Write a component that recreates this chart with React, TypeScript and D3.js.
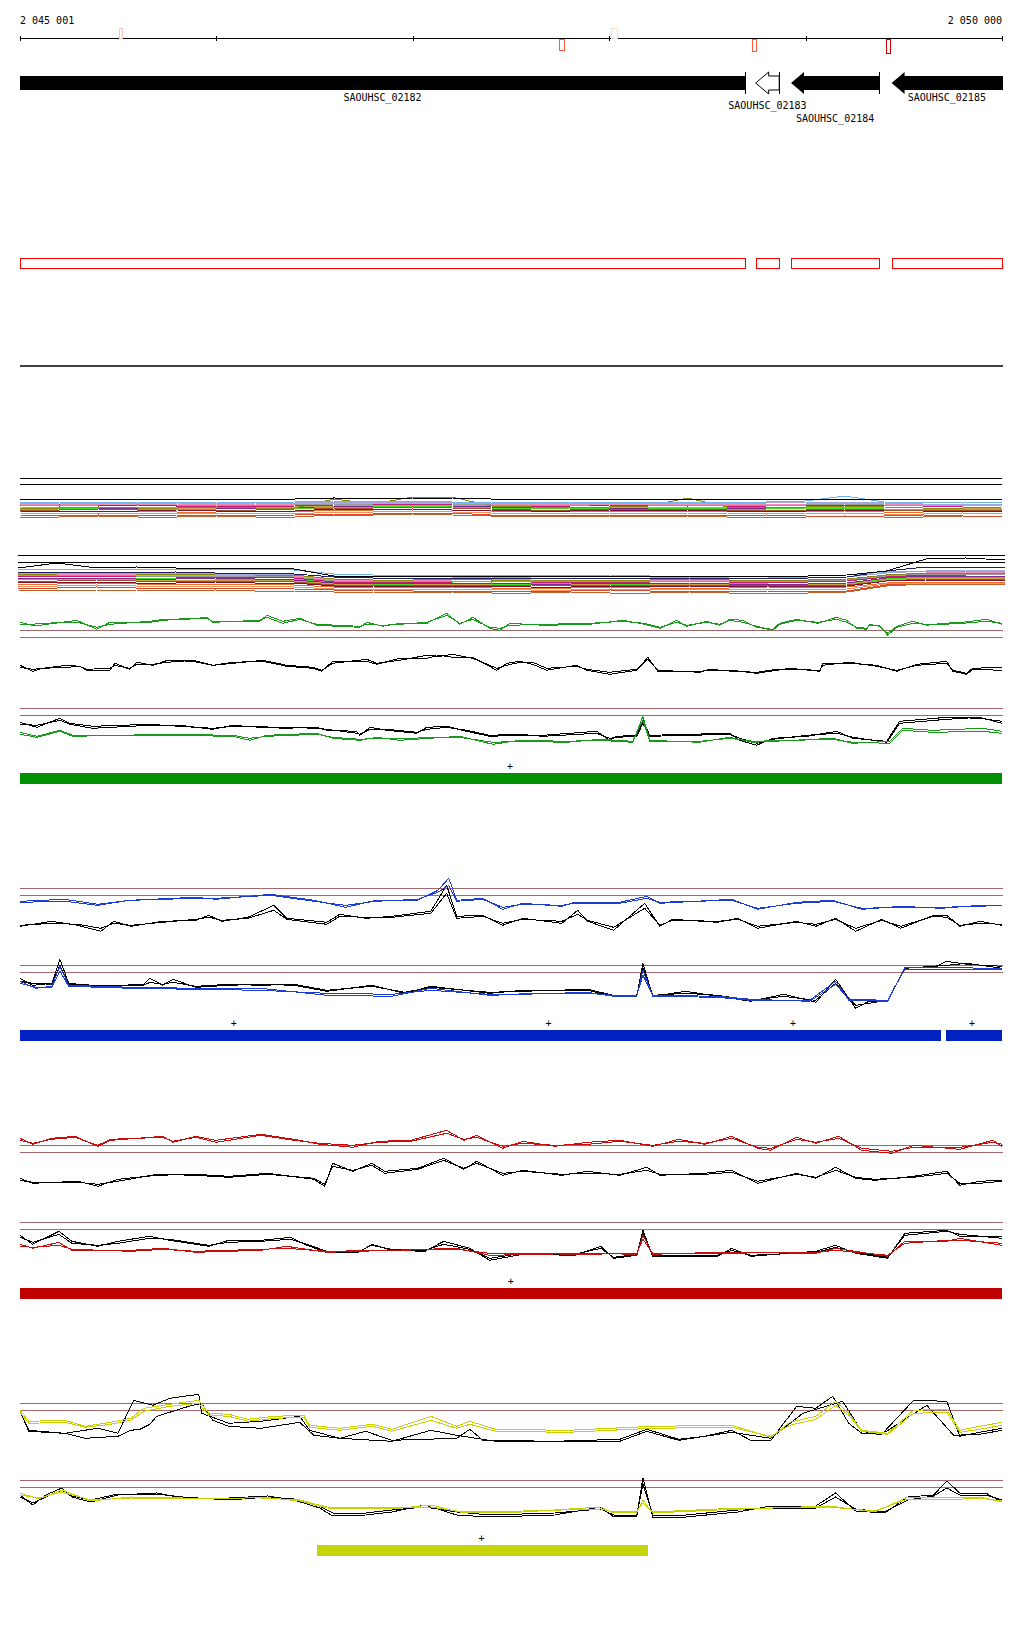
import React from 'react';
import * as d3 from 'd3';

// ---------- genome window ----------
const START = 2045001;
const END = 2050000;
const tickPositions = [2045001, 2046000, 2047000, 2048000, 2049000, 2050000];
const rangeLabels = ['2 045 001', '2 050 000'];

// ---------- genes ----------
const geneNames = ['SAOUHSC_02182', 'SAOUHSC_02183', 'SAOUHSC_02184', 'SAOUHSC_02185'];
const geneStarts = [2044500, 2048746, 2048926, 2049438];
const geneEnds = [2048692, 2048866, 2049375, 2050400];
const geneFilled = [true, false, true, true];
const geneLabelRow = [0, 1, 2, 0];

// ---------- CDS outlines ----------
const cdsStarts = [2045001, 2048746, 2048926, 2049438];
const cdsEnds = [2048692, 2048866, 2049375, 2050000];

// ---------- ruler markers ----------
const markerPositions = [2045517, 2047761, 2048025, 2048739, 2049424];
const markerColors = ['#f5c4bb', '#ff5b3a', '#ffd8c6', '#ff5b3a', '#c40000'];
const markerUp = [true, false, true, false, false];

// ---------- bundles (positions are offsets within window) ----------
const bundlePos = [1, 200, 400, 600, 800, 1000, 1200, 1400, 1600, 1800, 2000, 2200, 2400, 2600, 2800, 3000, 3200, 3400, 3600, 3800, 4000, 4200, 4400, 4600, 4800, 5000];
const topLightBlue = [18,18,17,18,18, 18,17,18,19,19, 19,18,18,17,18, 18,18,18,18,18, 19,24,18,17,18, 18];
const topOlive = [12,12,13,12,12, 13,12,12,21,16, 23,23,14,13,13, 13,14,22,13,13, 13,14,13,12,12, 13];
const topOrange = [8,9,8,9,8, 8,9,8,10,10, 11,10,9,9,8, 9,9,9,8,9, 8,9,8,8,9, 8];
const topRed = [5,4,5,4,5, 5,4,5,6,6, 7,7,5,5,4, 5,5,5,4,5, 4,4,4,5,4, 4];
const topSienna = [10,10,11,10,11, 10,10,11,12,12, 13,12,11,10,10, 11,11,11,10,10, 10,11,10,10,10, 10];
const topMagenta = [14,15,14,15,14, 14,13,14,15,16, 16,16,15,14,14, 15,14,15,14,14, 15,15,15,14,14, 15];
const topPurple = [11,13,12,12,13, 12,12,12,14,14, 15,14,13,12,13, 12,12,13,12,12, 13,14,13,12,12, 12];
const topGreen = [10,11,12,11,10, 11,12,11,13,13, 14,13,12,11,12, 11,12,12,11,11, 12,12,11,11,11, 11];
const topGray = [15,14,15,16,15, 15,14,15,16,16, 17,16,15,15,14, 16,15,15,15,15, 15,16,15,15,16, 15];
const topPink = [16,16,15,16,16, 15,16,16,17,17, 17,17,16,16,15, 16,16,16,16,16, 16,17,16,15,15, 15];
const topSalmon = [7,6,7,7,6, 7,7,6,8,8, 9,8,7,6,7, 7,6,7,7,6, 7,7,6,6,7, 6];
const topMaroon = [9,8,9,9,10, 9,9,9,11,10, 11,10,10,9,9, 10,9,10,9,9, 9,10,10,9,9, 9];
const topLavender = [17,17,16,17,17, 16,17,17,18,18, 18,18,17,17,17, 17,17,17,17,17, 18,18,17,16,16, 16];
const topKhaki = [13,12,13,13,12, 12,13,13,14,15, 15,15,14,13,12, 13,13,13,13,12, 13,13,13,12,12, 12];
const topBrown = [3,3,4,3,3, 4,3,3,5,5, 6,5,4,4,3, 4,3,4,3,3, 3,4,3,3,4, 3];
const topBlack = [21,21,21,21,21, 21,21,21,22,21, 22,22,21,21,21, 21,21,21,21,21, 21,21,21,21,21, 21];
const topRefs = [42, 36];

const botLightBlue = [27,27,27,27,27, 27,27,26,22,21, 21,21,21,21,21, 21,20,20,20,20, 20,21,24,25,25, 25];
const botBlack = [28,33,28,29,28, 28,28,27,20,20, 20,20,20,20,20, 20,20,20,20,20, 20,21,25,37,38, 36];
const botNavy = [24,24,24,23,24, 23,23,22,19,18, 18,18,18,18,18, 18,18,18,18,18, 18,19,25,29,29, 29];
const botOlive = [22,22,23,22,22, 22,21,21,17,16, 16,17,16,16,15, 16,16,17,16,16, 16,17,21,23,23, 23];
const botOrange = [12,12,13,12,11, 12,12,11,9,9, 8,9,8,8,8, 9,8,8,8,9, 8,9,13,14,14, 14];
const botRed = [8,8,9,8,8, 8,8,7,6,6, 5,5,5,5,5, 6,5,5,4,5, 5,5,11,13,13, 13];
const botSienna = [15,15,16,15,15, 15,15,14,11,11, 11,11,11,11,10, 11,10,11,11,11, 10,11,16,17,17, 17];
const botMagenta = [19,20,20,20,19, 19,19,18,14,14, 14,14,15,14,14, 14,14,15,14,14, 14,15,19,21,21, 22];
const botPurple = [17,18,18,17,17, 18,17,16,13,13, 13,12,13,12,12, 13,13,13,12,12, 12,13,18,20,20, 20];
const botGreen = [18,18,17,18,18, 17,17,17,13,12, 12,13,12,12,13, 12,12,13,13,12, 12,13,17,19,19, 19];
const botGray = [20,21,21,20,20, 20,20,19,15,15, 15,15,15,15,15, 15,15,15,15,15, 15,16,20,22,22, 22];
const botPink = [21,22,22,21,21, 21,21,20,16,16, 16,16,17,16,16, 16,16,16,16,16, 16,17,21,23,24, 24];
const botSalmon = [10,10,11,10,10, 10,10,9,7,7, 7,7,7,6,6, 7,6,7,7,7, 7,7,12,13,13, 13];
const botMaroon = [13,14,14,13,13, 14,13,13,10,10, 9,10,10,9,9, 10,10,10,9,10, 9,10,15,16,16, 16];
const botLavender = [23,23,23,23,23, 22,22,22,19,18, 18,18,19,18,18, 18,18,19,18,18, 19,19,23,25,26, 26];
const botKhaki = [16,17,17,16,16, 16,16,15,12,12, 12,12,12,12,11, 12,11,12,12,12, 11,12,16,18,18, 18];
const botBrown = [6,5,6,6,5, 6,5,5,4,4, 3,4,3,3,4, 3,3,4,3,3, 3,4,10,12,12, 12];
const botRefs = [41, 34];

// ---------- signal panels: reference (threshold) values ----------
const panelRefs = [50, 43];

// ---------- GREEN ----------
const posGT = [1,66,102,290,392, 458,662,738,850,952, 982,1222,1257,1339,1425, 1512,1731,1766,1848,1934, 2072,2173,2240,2306,2392, 2443,2494,2672,2901,3069, 3181,3258,3344,3395,3497, 3563,3614,3680,3751,3833, 3868,3955,4062,4159,4209, 4260,4311,4327,4377,4418, 4464,4545,4617,4698,4800, 4922,5000];
const gTopA = [58,55,55,60,51, 58,58,60,62,62, 59,59,65,59,62, 55,53,58,54,57, 57,67,56,63,52, 50,57,55,56,60, 56,52,60,54,59, 55,61,60,53,51, 57,61,57,63,60, 52,51,56,54,47, 54,59,55,57,58, 61,56];
const gTopB = [56,56,57,58,53, 56,59,61,61,63, 58,60,63,57,61, 56,54,56,55,56, 58,65,57,61,53, 52,55,56,57,59, 57,53,58,55,58, 56,60,58,54,50, 56,60,58,61,58, 53,52,55,55,45, 53,57,56,56,57, 59,57];
const posGK = [1,66,117,239,305, 341,458,484,560,596, 677,753,881,982,1084, 1237,1359,1491,1537,1593, 1766,1817,1934,2072,2138, 2204,2306,2428,2479,2545, 2611,2682,2835,2886,3003, 3141,3197,3248,3461,3512, 3629,3751,3853,3919,4072, 4087,4225,4362,4464,4566, 4719,4749,4820,4851,5000];
const gKA = [15,9,12,15,14, 10,10,17,11,18, 15,20,19,15,18, 19,14,12,9,19, 19,16,22,22,25, 23,23,10,17,19, 16,10,15,10,6, 10,23,9,9,10, 10,7,10,12,9, 17,17,15,9,16, 19,9,6,11,10];
const gKB = [13,11,12,13,14, 11,12,15,12,16, 16,18,20,15,17, 20,15,13,10,17, 21,17,20,25,24, 26,22,12,15,18, 18,12,14,11,8, 11,21,10,8,11, 9,8,11,11,10, 15,18,14,10,15, 17,10,7,12,13];
const posG2K = [1,87,204,255,372, 662,814,982,1084,1222, 1339,1512,1563,1715,1731, 1782,1868,2021,2072,2173, 2275,2392,2545,2662,2937, 3003,3039,3141,3172,3207, 3614,3665,3751,3833,4006, 4159,4240,4413,4479,4719, 4887,5000];
const g2KA = [36,31,40,35,32, 34,32,30,32,32, 30,31,28,27,23, 31,28,25,31,32, 27,22,23,23,27, 18,22,23,38,23, 25,18,13,20,22, 27,20,17,37,41, 40,37];
const g2KB = [34,33,38,34,30, 33,33,29,33,31, 31,30,29,25,24, 29,29,26,29,31, 28,23,24,22,25, 20,21,22,35,22, 24,20,15,19,23, 25,21,16,35,39, 41,35];
const posG2G = [1,87,204,270,748, 1084,1171,1257,1512,1593, 1731,1817,1934,2240,2408, 2545,2784,2952,3120,3172, 3207,3461,3614,3731,4138, 4240,4428,4495,4647,4902, 5000];
const g2GA = [26,22,28,23,23, 22,18,23,25,20, 18,21,18,22,14, 18,17,18,16,42, 18,16,21,16,20, 15,17,30,28,30, 27];
const g2GB = [24,21,27,22,24, 23,20,22,24,21, 19,20,20,21,16, 17,16,19,17,38, 17,17,20,17,19, 16,15,28,26,27, 25];
const greenBarStarts = [2045001];
const greenBarEnds = [2050000];
const greenPlus = [2047495];

// ---------- BLUE ----------
const posB1B = [1,229,397,560,896, 998,1278,1497,1659,1812, 2026,2128,2184,2224,2357, 2458,2560,2759,2825,3054, 3192,3258,3624,3756,3955, 4138,4286,4484,4688,4887, 5000];
const b1BA = [37,39,34,38,41, 39,44,38,31,38, 38,48,60,38,40, 29,35,32,36,36, 42,35,39,29,36, 38,29,32,30,33, 33];
const b1BB = [36,37,33,38,40, 40,43,37,33,37, 39,46,53,37,39, 31,34,33,35,35, 40,36,38,30,35, 37,30,31,31,32, 33];
const posB1K = [1,163,295,412,478, 565,728,896,962,1028, 1161,1293,1359,1563,1629, 1761,1894,2092,2173,2224, 2357,2458,2560,2759,2840, 2891,3023,3181,3258,3324, 3553,3655,3756,3955,4052, 4153,4255,4388,4484,4652, 4719,4785,4887,5000];
const b1KA = [12,17,13,7,17, 12,17,18,23,17, 21,33,20,16,24, 20,22,27,53,22, 23,13,20,15,28, 17,8,35,12,19, 16,20,10,17,12, 20,7,19,10,23, 23,12,17,13];
const b1KB = [13,15,14,10,15, 13,16,19,21,18, 20,28,19,14,22, 21,21,25,45,20, 22,15,19,17,24, 18,11,30,13,18, 17,19,12,16,14, 19,10,18,12,22, 21,13,15,14];
const posB2K = [1,66,163,204,249, 397,631,662,728,779, 896,1064,1227,1395,1563, 1792,1960,2092,2392,2560, 2891,3023,3141,3172,3222, 3390,3553,3721,3889,4052, 4153,4255,4322,4418,4505, 4652,4719,4820,5000];
const b2KA = [37,30,32,56,32, 29,31,37,30,36, 28,30,31,30,24, 30,22,29,22,25, 25,19,19,52,19, 24,19,14,21,13, 36,7,14,14,48, 48,54,51,49];
const b2KB = [34,32,31,50,31, 30,30,33,31,33, 29,31,30,31,25, 29,23,28,23,24, 26,20,20,48,20, 22,20,15,19,15, 32,10,12,15,47, 49,50,52,47];
const posB2B = [1,81,163,204,249, 565,896,1227,1563,1894, 2092,2392,2891,3023,3141, 3172,3222,3553,3721,4021, 4153,4220,4418,4505,5000];
const b2BA = [34,27,29,49,30, 28,27,27,20,19, 27,20,23,19,19, 45,19,18,15,15, 34,15,14,48,47];
const b2BB = [32,28,28,44,29, 27,26,25,22,21, 25,21,22,20,20, 40,20,19,16,14, 31,16,15,46,46];
const blueBarStarts = [2045001, 2049715];
const blueBarEnds = [2049692, 2050000];
const bluePlus = [2046089, 2047692, 2048936, 2049847];

// ---------- RED ----------
const posR1R = [1,66,163,280,397, 463,728,779,896,998, 1227,1395,1527,1695,1827, 1990,2173,2260,2326,2458, 2560,2723,2891,3054,3222, 3354,3487,3624,3756,3823, 3955,4052,4169,4286,4439, 4550,4785,4953,5000];
const r1RA = [57,51,57,59,49, 55,59,53,59,55, 61,56,51,48,54, 55,65,55,60,47, 54,49,53,55,49, 56,51,59,47,45, 58,52,59,45,42, 50,46,55,49];
const r1RB = [55,52,56,58,50, 56,58,54,58,53, 60,55,52,50,53, 54,62,56,58,49, 52,50,51,54,50, 54,52,57,48,47, 56,53,57,47,44, 48,48,53,51];
const posR1K = [1,66,295,397,499, 697,896,1064,1262,1497, 1552,1593,1695,1792,1858, 2026,2158,2260,2326,2458, 2560,2759,2891,3054,3192, 3258,3487,3624,3756,3955, 4052,4153,4255,4352,4550, 4719,4785,4887,5000];
const r1KA = [17,12,14,9,16, 20,21,19,22,16, 9,32,24,32,24, 27,37,26,34,20, 25,20,24,20,28, 20,22,25,12,22, 17,28,17,15,19, 24,10,14,15];
const r1KB = [15,13,13,11,14, 21,20,18,21,17, 11,29,25,30,22, 26,35,27,32,22, 24,21,22,21,25, 21,21,23,14,21, 18,25,18,16,18, 22,12,12,14];
const posR2K = [1,66,199,265,397, 499,662,764,962,1064, 1227,1380,1461,1563,1726, 1792,1894,2062,2158,2291, 2392,2560,2825,2957,3023, 3141,3172,3222,3390,3553, 3624,3721,4052,4153,4255, 4418,4505,4719,4785,5000];
const r2KA = [37,28,41,31,26, 31,36,32,26,32, 32,35,27,20,20, 28,22,21,31,24, 12,18,17,26,14, 17,42,16,16,16, 24,16,21,27,19, 14,39,42,36,36];
const r2KB = [35,30,38,29,27, 29,34,33,27,30, 31,33,28,21,21, 27,23,22,28,23, 14,19,18,24,15, 18,39,17,17,17, 22,17,20,25,20, 15,37,41,38,34];
const posR2R = [1,66,199,265,565, 728,896,1227,1359,1563, 2224,2392,2891,3141,3172, 3222,3553,4052,4153,4418, 4505,4719,4785,5000];
const r2RA = [28,24,30,22,22, 24,20,22,26,20, 24,17,19,18,37, 18,20,19,24,16, 31,31,34,27];
const r2RB = [26,25,27,23,21, 23,21,23,24,21, 23,19,18,19,33, 19,19,20,22,17, 29,32,32,29];
const redBarStarts = [2045001];
const redBarEnds = [2050000];
const redPlus = [2047499];

// ---------- YELLOW ----------
const posY1KA = [1,46,229,397,499, 580,677,764,911,926, 1064,1227,1425,1476,1629, 1761,1894,2224,2291,2357, 2723,3054,3192,3354,3487, 3624,3721,3823,3955,4052, 4138,4220,4286,4388,4550, 4719,4785,4887,5000];
const y1KA = [42,22,20,25,20, 53,48,55,59,40, 30,32,37,23,15, 22,13,15,24,13, 12,14,24,14,17, 23,13,13,47,45, 57,30,20,19,53, 52,17,21,25];
const posY1KB = [1,46,229,331,499, 565,611,662,697,860, 926,982,1064,1227,1425, 1497,1629,1894,2092,2224, 2423,3054,3192,3354,3624, 3823,3986,4189,4286,4388, 4617,4754,4887,5000];
const y1KB = [42,23,20,15,17, 23,24,29,37,47, 50,33,27,25,31, 18,15,12,23,18, 12,12,22,13,21, 15,40,52,22,19, 48,18,19,23];
const posY1Y = [1,46,229,331,463, 565,631,764,911,962, 1064,1161,1293,1446,1476, 1629,1792,1894,2092,2224, 2291,2423,2789,3222,3624, 3823,3919,4052,4153,4220, 4286,4418,4550,4719,4785, 4887,5000];
const y1YA = [43,32,33,27,31, 35,45,49,53,40, 39,34,37,38,28, 25,29,24,37,27, 32,24,23,27,28, 16,31,37,52,40, 23,20,43,44,23, 27,31];
const y1YB = [41,30,31,26,29, 33,42,47,50,38, 37,32,35,36,26, 23,27,22,33,25, 29,22,21,25,26, 17,28,34,48,38, 22,19,40,41,21, 24,28];
const posY2K = [1,66,132,214,265, 361,499,697,830,1064, 1262,1395,1527,1593,1761, 1894,2062,2224,2392,2723, 2957,3023,3141,3172,3222, 3390,3655,3823,4052,4153, 4255,4403,4520,4652,4719, 4785,4917,5000];
const y2KA = [35,25,35,42,33, 28,35,37,32,32, 34,30,22,14,15, 18,25,15,13,15, 23,13,14,52,13, 13,18,24,24,37, 19,17,33,35,49, 37,37,28];
const y2KB = [33,27,33,40,34, 30,36,36,33,30, 33,31,24,17,17, 20,23,18,15,17, 21,15,15,46,15, 15,20,22,22,33, 21,18,30,34,42, 35,35,30];
const posY2Y = [1,97,214,361,565, 830,1064,1227,1425,1563, 1894,2092,2260,2560,2957, 3023,3141,3172,3222,3553, 4118,4352,4520,4719,4887, 5000];
const y2YA = [37,31,40,29,33, 32,31,33,29,22, 21,25,17,18,23, 17,18,30,17,20, 24,18,33,32,33, 28];
const y2YB = [35,32,38,30,32, 31,32,32,30,23, 22,23,18,19,21, 18,19,27,18,21, 23,19,31,30,32, 29];
const yellowBarStarts = [2046513];
const yellowBarEnds = [2048198];
const yellowPlus = [2047350];

type S = d3.ScaleLinear<number, number>;

export default function App() {
  const X0 = 20, X1 = 1002;
  const x = d3.scaleLinear().domain([START, END]).range([X0, X1]);
  const xWide = d3.scaleLinear().domain([START, END]).range([18, 1005]);
  const g = (o: number) => START - 1 + o;
  const path = (xs: S, pos: number[], vals: number[], ys: S) => {
    const n = Math.min(pos.length, vals.length);
    return d3.line()(d3.range(n).map((i) => [xs(g(pos[i])), ys(vals[i])] as [number, number])) || '';
  };

  // style / layout constants
  const FONT = "'DejaVu Sans Mono', 'Liberation Mono', monospace";
  const AXIS_Y = 38.5;
  const LABEL_BASE = [100.7, 109.3, 121.7];
  const MARKER_W = [3, 4.5, 6, 3.5, 4];
  const MARKER_H = [10, 11, 10, 12, 14];
  const BROWN = '#a06868';

  const bundles = [
    {
      xs: x, ys: d3.scaleLinear().domain([0, 45]).range([520, 475]), refs: topRefs, x0: 20, x1: 1002,
      series: [
        [topBrown, '#c8602a'], [topRed, '#d9482b'], [topSalmon, '#ee9060'], [topOrange, '#e8702a'],
        [topMaroon, '#801030'], [topSienna, '#a0522d'], [topGreen, '#3ddc1c'], [topPurple, '#7b2c8c'],
        [topKhaki, '#c8a040'], [topOlive, '#8c8c00'], [topMagenta, '#c8187a'], [topGray, '#9a9a9a'],
        [topPink, '#f08cb0'], [topLavender, '#a0a8e0'], [topLightBlue, '#6ab4f0'], [topBlack, '#000000'],
      ] as [number[], string][],
    },
    {
      xs: xWide, ys: d3.scaleLinear().domain([0, 45]).range([596, 551]), refs: botRefs, x0: 18, x1: 1005,
      series: [
        [botBrown, '#c8602a'], [botRed, '#d9482b'], [botSalmon, '#ee9060'], [botOrange, '#e8702a'],
        [botMaroon, '#801030'], [botSienna, '#a0522d'], [botKhaki, '#c8a040'], [botGreen, '#3ddc1c'],
        [botPurple, '#7b2c8c'], [botMagenta, '#c8187a'], [botGray, '#9a9a9a'], [botPink, '#f08cb0'],
        [botOlive, '#8c8c00'], [botLavender, '#a0a8e0'], [botNavy, '#1e1e66'], [botLightBlue, '#6ab4f0'],
        [botBlack, '#000000'],
      ] as [number[], string][],
    },
  ];

  const sections = [
    {
      color: '#1a9a1a', barColor: '#008f00', bases: [680.3, 758.3], barY: 773,
      panels: [
        { col: [[posGT, gTopA], [posGT, gTopB]], blk: [[posGK, gKA], [posGK, gKB]] },
        { col: [[posG2G, g2GA], [posG2G, g2GB]], blk: [[posG2K, g2KA], [posG2K, g2KB]] },
      ],
      barStarts: greenBarStarts, barEnds: greenBarEnds, plus: greenPlus,
    },
    {
      color: '#1c3cd6', barColor: '#0022c0', bases: [938.3, 1015.3], barY: 1030,
      panels: [
        { col: [[posB1B, b1BA], [posB1B, b1BB]], blk: [[posB1K, b1KA], [posB1K, b1KB]] },
        { col: [[posB2B, b2BA], [posB2B, b2BB]], blk: [[posB2K, b2KA], [posB2K, b2KB]] },
      ],
      barStarts: blueBarStarts, barEnds: blueBarEnds, plus: bluePlus,
    },
    {
      color: '#cc0a0a', barColor: '#c00000', bases: [1195.3, 1272.3], barY: 1288,
      panels: [
        { col: [[posR1R, r1RA], [posR1R, r1RB]], blk: [[posR1K, r1KA], [posR1K, r1KB]] },
        { col: [[posR2R, r2RA], [posR2R, r2RB]], blk: [[posR2K, r2KA], [posR2K, r2KB]] },
      ],
      barStarts: redBarStarts, barEnds: redBarEnds, plus: redPlus,
    },
    {
      color: '#c8d200', barColor: '#c5d40a', bases: [1453.3, 1530], barY: 1545,
      panels: [
        { col: [[posY1Y, y1YA], [posY1Y, y1YB]], blk: [[posY1KA, y1KA], [posY1KB, y1KB]] },
        { col: [[posY2Y, y2YA], [posY2Y, y2YB]], blk: [[posY2K, y2KA], [posY2K, y2KB]] },
      ],
      barStarts: yellowBarStarts, barEnds: yellowBarEnds, plus: yellowPlus,
    },
  ];

  return (
    <svg
      width={1024}
      height={1640}
      style={{ position: 'absolute', left: 0, top: 0, background: '#ffffff' }}
      fontFamily={FONT}
      fontSize={10}
    >
      <defs>
        <clipPath id="geneClip">
          <rect x={X0} y={60} width={X1 - X0 + 1} height={50} />
        </clipPath>
      </defs>
      <rect x={0} y={0} width={1024} height={1640} fill="#ffffff" />

      {/* ruler */}
      <text x={X0} y={24} fill="#000">{rangeLabels[0]}</text>
      <text x={X1} y={24} fill="#000" textAnchor="end">{rangeLabels[1]}</text>
      <line x1={X0} x2={X1} y1={AXIS_Y} y2={AXIS_Y} stroke="#000" strokeWidth={1} shapeRendering="crispEdges" />
      {tickPositions.map((t) => (
        <line key={t} x1={Math.round(x(t)) + 0.5} x2={Math.round(x(t)) + 0.5} y1={36} y2={41} stroke="#000" strokeWidth={1} shapeRendering="crispEdges" />
      ))}
      {markerPositions.map((p, i) => {
        const w = MARKER_W[i], h = MARKER_H[i];
        const cx = x(p);
        const y0 = markerUp[i] ? AXIS_Y - h : AXIS_Y + 0.5;
        return (
          <rect key={p} x={cx - w / 2} y={y0} width={w} height={h} fill="#ffffff" stroke={markerColors[i]} strokeWidth={1} shapeRendering="crispEdges" />
        );
      })}

      {/* genes */}
      <g clipPath="url(#geneClip)">
        {geneNames.map((n, i) => {
          const xs = x(geneStarts[i]);
          const xe = x(geneEnds[i]);
          const xh = xs + 13;
          const pts = [[xs, 83], [xh, 72], [xh, 76], [xe, 76], [xe, 90], [xh, 90], [xh, 94]];
          return (
            <polygon
              key={n}
              points={pts.map((p) => p.join(',')).join(' ')}
              fill={geneFilled[i] ? '#000' : '#fff'}
              stroke="#000"
              strokeWidth={geneFilled[i] ? 0 : 1}
            />
          );
        })}
      </g>
      {geneNames.map((n, i) => {
        const xe = x(geneEnds[i]);
        if (xe > X1) return null;
        return <line key={n + 'bar'} x1={xe} x2={xe} y1={72} y2={94} stroke="#000" strokeWidth={1} shapeRendering="crispEdges" />;
      })}
      {geneNames.map((n, i) => {
        const a = Math.max(x(geneStarts[i]), X0);
        const b = Math.min(x(geneEnds[i]), X1);
        return (
          <text key={n + 'lbl'} x={(a + b) / 2} y={LABEL_BASE[geneLabelRow[i]]} textAnchor="middle" fill="#000">{n}</text>
        );
      })}

      {/* CDS outline */}
      {cdsStarts.map((s, i) => (
        <rect key={s} x={x(s) + 0.5} y={258.5} width={x(cdsEnds[i]) - x(s)} height={10} fill="none" stroke="#ff0000" strokeWidth={1.2} shapeRendering="crispEdges" />
      ))}

      <line x1={X0} x2={X1 + 1} y1={366} y2={366} stroke="#000" strokeWidth={1.5} />

      {/* bundles */}
      {bundles.map((b, bi) => (
        <g key={'b' + bi}>
          {b.refs.map((r) => (
            <line key={r} x1={b.x0} x2={b.x1} y1={b.ys(r) + 0.5} y2={b.ys(r) + 0.5} stroke="#000" strokeWidth={1} shapeRendering="crispEdges" />
          ))}
          {b.series.map(([vals, c], si) => (
            <path key={si} d={path(b.xs, bundlePos, vals, b.ys)} fill="none" stroke={c} strokeWidth={1} shapeRendering="crispEdges" />
          ))}
        </g>
      ))}

      {/* signal sections */}
      {sections.map((s, si) => (
        <g key={'s' + si}>
          {s.panels.map((p, pi) => {
            const base = s.bases[pi];
            const ys = d3.scaleLinear().domain([0, 70]).range([base, base - 70]);
            return (
              <g key={pi}>
                {panelRefs.map((r) => (
                  <line key={r} x1={X0} x2={X1 + 1} y1={ys(r)} y2={ys(r)} stroke={BROWN} strokeWidth={1} shapeRendering="crispEdges" />
                ))}
                {(p.blk as [number[], number[]][]).map(([pos, vals], k) => (
                  <path key={'k' + k} d={path(x, pos, vals, ys)} fill="none" stroke="#000" strokeWidth={1} shapeRendering="crispEdges" />
                ))}
                {(p.col as [number[], number[]][]).map(([pos, vals], k) => (
                  <path key={'c' + k} d={path(x, pos, vals, ys)} fill="none" stroke={s.color} strokeWidth={1} shapeRendering="crispEdges" />
                ))}
              </g>
            );
          })}
          {s.barStarts.map((b, k) => (
            <rect key={'bar' + k} x={x(b)} y={s.barY} width={x(s.barEnds[k]) - x(b)} height={11} fill={s.barColor} shapeRendering="crispEdges" />
          ))}
          {s.plus.map((p, k) => (
            <text key={'p' + k} x={x(p)} y={s.barY - 3.2} textAnchor="middle" fill="#000" fontSize={10}>+</text>
          ))}
        </g>
      ))}
    </svg>
  );
}
